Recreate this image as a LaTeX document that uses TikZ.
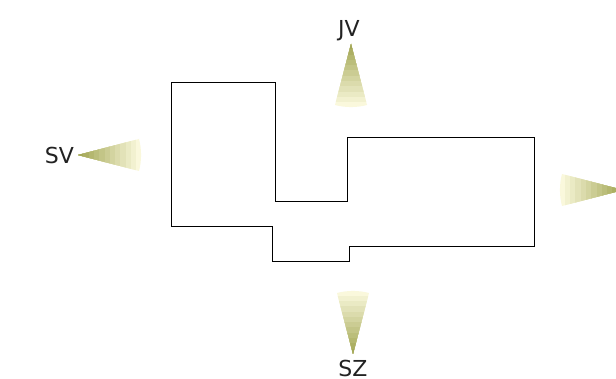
\documentclass[tikz,border=0pt]{standalone}
\usepackage{fontspec}
\setmainfont{DejaVu Sans}
\definecolor{conetip}{HTML}{A4A857}
\definecolor{conebase}{HTML}{FAF8DC}
\definecolor{labelink}{HTML}{222222}
\tikzset{
  outline/.style={draw=black,line width=1pt,line join=miter},
  dirlabel/.style={text=labelink,font=\fontsize{22}{22}\selectfont,inner sep=0pt,anchor=center}
}
% #1 tip x, #2 tip y, #3 rotation
\newcommand{\conewedge}[3]{%
  \begin{scope}[shift={(#1,#2)},rotate=#3]
    \clip (0,0) -- (61,-16) arc[start angle=-14.7,end angle=14.7,radius=63] -- cycle;
    \foreach \k in {12,...,1}{
      \pgfmathsetmacro{\mixp}{100-(\k-1)*100/11}
      \fill[conetip!\mixp!conebase] (-1,-20) rectangle ({\k*5.3},20);
    }
  \end{scope}}
\begin{document}
\begin{tikzpicture}[x=1pt,y=-1pt]
  \useasboundingbox (0,0) rectangle (616,379);
  \fill[white] (0,0) rectangle (616,379);
  \begin{scope}
    \clip (0,0) rectangle (616,379);
    \conewedge{78}{155}{0}
    \conewedge{623}{190}{180}
    \conewedge{351}{44}{-90}
    \conewedge{353}{354}{90}
  \end{scope}
  \draw[outline] (171,82.3) -- (275,82.3) -- (275,201.3) -- (347,201.3) -- (347,137.3) -- (534,137.3)
    -- (534,246.3) -- (349.2,246.3) -- (349.2,261.3) -- (272.2,261.3) -- (272.2,226.3) -- (171,226.3) -- cycle;
  \node[dirlabel] (sv) at (59.5,155) {SV};
  \node[dirlabel] (jv) at (349,30.5) {JV};
  \node[dirlabel] (sz) at (353,368) {SZ};
\end{tikzpicture}
\end{document}
